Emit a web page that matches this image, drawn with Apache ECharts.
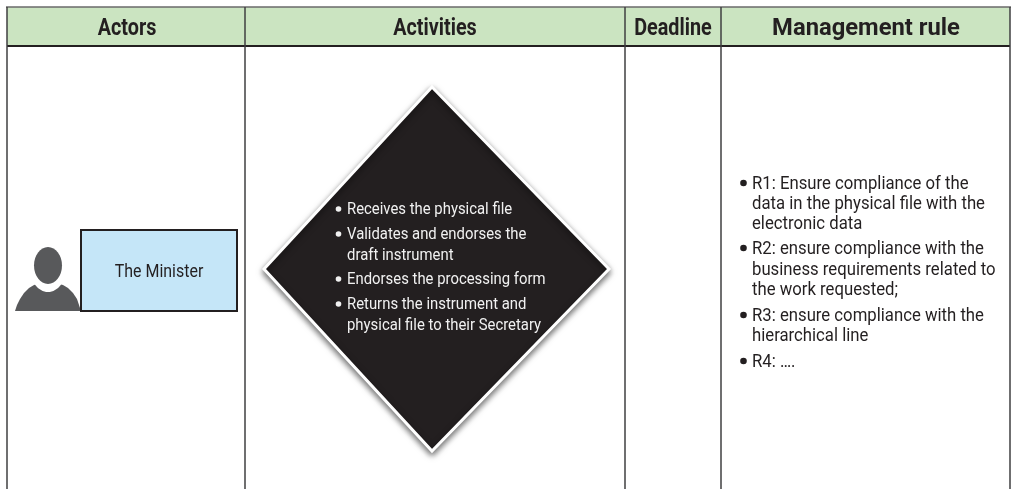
<!DOCTYPE html>
<html><head><meta charset="utf-8">
<style>html,body{margin:0;padding:0;background:#fff}#c{width:1012px;height:489px}</style>
<script src="https://cdn.jsdelivr.net/npm/echarts@6/dist/echarts.min.js"></script>
</head><body><div id="c"></div>
<script>
var headers = ['Actors', 'Activities', 'Deadline', 'Management rule'];
var actorName = 'The Minister';
var activityLines = ['Receives the physical file', 'Validates and endorses the', 'draft instrument', 'Endorses the processing form', 'Returns the instrument and', 'physical file to their Secretary'];
var activityBullets = [true, true, false, true, true, false];
var ruleLines = ['R1: Ensure compliance of the', 'data in the physical file with the', 'electronic data', 'R2: ensure compliance with the', 'business requirements related to', 'the work requested;', 'R3: ensure compliance with the', 'hierarchical line', 'R4: ….'];
var ruleBullets = [true, false, false, true, false, false, true, false, true];

var chart = echarts.init(document.getElementById('c'), null, {renderer: 'canvas'});
var g = [];
var ink = '#231f20', line = '#3f3f40';
var colX = [7, 245, 625, 721, 1010];
var headMid = [127, 435, 673, 866];

function txt(x, y, s, font, color, align, sx) {
  return {type: 'text', x: x, y: y, scaleX: sx || 1, z: 10, style: {text: s, font: font, fill: color, align: align || 'left', verticalAlign: 'middle'}};
}
g.push({type: 'rect', shape: {x: colX[0], y: 7, width: colX[4] - colX[0], height: 39}, style: {fill: '#cbe4c1'}, z: 1});
g.push({type: 'line', shape: {x1: colX[0] - 1, y1: 7, x2: colX[4] + 1, y2: 7}, style: {stroke: '#6a6a6a', lineWidth: 1.5}, z: 2});
g.push({type: 'line', shape: {x1: colX[0], y1: 46, x2: colX[4], y2: 46}, style: {stroke: ink, lineWidth: 2}, z: 2});
colX.forEach(function (x) {
  g.push({type: 'line', shape: {x1: x, y1: 7, x2: x, y2: 489}, style: {stroke: line, lineWidth: 1.5}, z: 2});
});
headers.forEach(function (h, i) {
  var last = i === 3;
  g.push(txt(headMid[i], 29, h, (last ? '700 24px Roboto' : '700 23px Roboto'), ink, 'center', last ? 0.99 : 0.86));
});
// person
g.push({type: 'polygon', shape: {points: [[15, 311], [17, 305], [20, 299], [24, 293], [29, 288], [34, 285], [37, 284], [59, 284], [63, 285], [68, 288], [73, 293], [77, 299], [79, 305], [81, 311]]}, style: {fill: '#58595b'}, z: 3});
g.push({type: 'ellipse', shape: {cx: 48, cy: 268, rx: 18, ry: 24}, style: {fill: '#fff'}, z: 4});
g.push({type: 'ellipse', shape: {cx: 48, cy: 265.5, rx: 14, ry: 18.5}, style: {fill: '#58595b'}, z: 4});
// actor box
g.push({type: 'rect', shape: {x: 81, y: 230, width: 156, height: 81}, style: {fill: '#c5e6f8', stroke: ink, lineWidth: 2}, z: 5});
g.push(txt(159, 272, actorName, '19px Roboto', ink, 'center', 0.84));
// diamond
g.push({type: 'polygon', shape: {points: [[432, 87], [609, 269], [432, 451], [264, 269]]}, style: {fill: ink, stroke: '#fff', lineWidth: 3, shadowBlur: 6, shadowColor: 'rgba(0,0,0,0.55)', shadowOffsetY: 3, shadowOffsetX: 0}, z: 5});
var ay = [209, 234, 255, 279, 304, 325];
activityLines.forEach(function (s, i) {
  g.push(txt(347, ay[i] + 1, s, '17px Roboto', '#f1f1f1', 'left', 0.875));
  if (activityBullets[i]) g.push({type: 'circle', shape: {cx: 338.5, cy: ay[i], r: 2.8}, style: {fill: '#f1f1f1'}, z: 10});
});
var ry = [183, 203, 223, 248, 269, 289, 315, 335, 361];
ruleLines.forEach(function (s, i) {
  g.push(txt(752, ry[i] + 1, s, '19px Roboto', ink, 'left', 0.88));
  if (ruleBullets[i]) g.push({type: 'circle', shape: {cx: 743.5, cy: ry[i], r: 3.3}, style: {fill: ink}, z: 10});
});
chart.setOption({animation: false, graphic: {elements: g}});
</script></body></html>
